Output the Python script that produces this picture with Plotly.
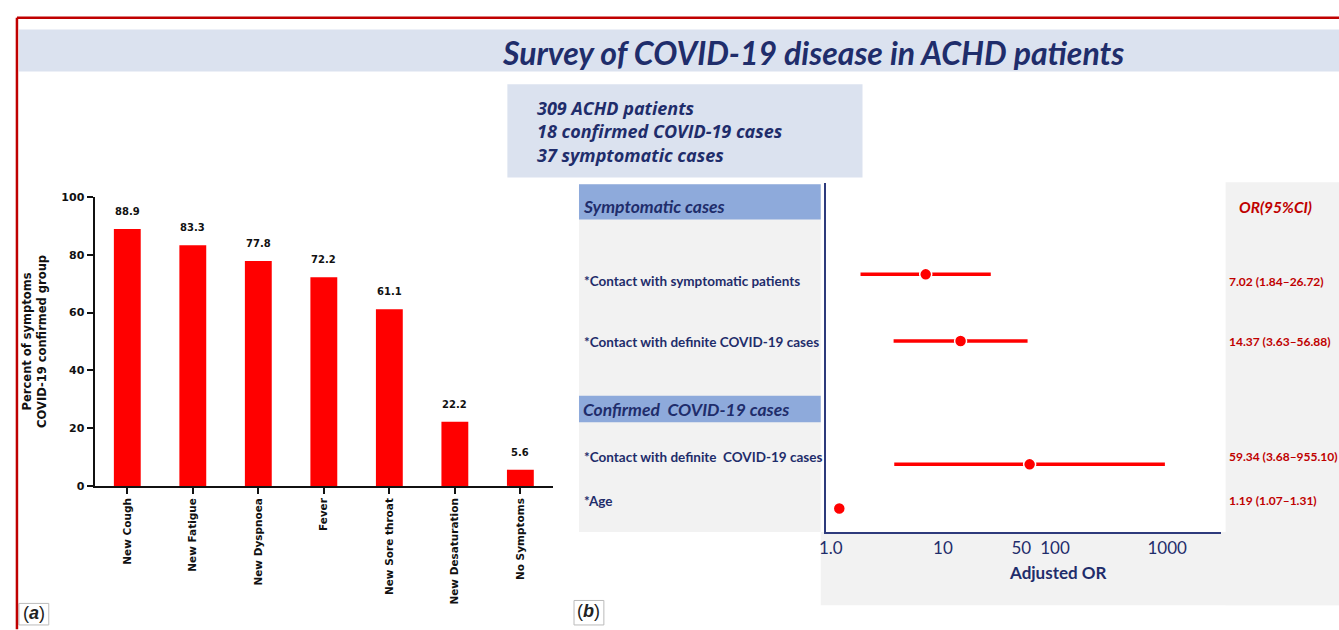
import math
import plotly.graph_objects as go

W, H = 1339, 630

# ---------------- data ----------------
symptoms = ["New Cough", "New Fatigue", "New Dyspnoea", "Fever",
            "New Sore throat", "New Desaturation", "No Symptoms"]
percent = [88.9, 83.3, 77.8, 72.2, 61.1, 22.2, 5.6]
pct_ticks = [0, 20, 40, 60, 80, 100]

factors = ["*Contact with symptomatic patients",
           "*Contact with definite COVID-19 cases",
           "*Contact with definite  COVID-19 cases",
           "*Age"]
or_val = [7.02, 14.37, 59.34, 1.19]
ci_low = [1.84, 3.63, 3.68, 1.07]
ci_high = [26.72, 56.88, 955.10, 1.31]
or_labels = ["7.02 (1.84\u201326.72)", "14.37 (3.63\u201356.88)",
             "59.34 (3.68\u2013955.10)", "1.19 (1.07\u20131.31)"]
or_ticks = [1, 10, 50, 100, 1000]
or_ticktext = ["1.0", "10", "50", "100", "1000"]

summary_lines = ["309 ACHD patients", "18 confirmed COVID-19 cases", "37 symptomatic cases"]
group_headers = ["Symptomatic cases", "Confirmed  COVID-19 cases"]

# ---------------- layout helpers (pixel -> paper) ----------------
def fx(x):
    return x / W

def fy(y):
    return 1 - y / H

NAVY = "#1f2d6b"
AXNAVY = "#2e3b7c"
RED = "#ff0000"
DARKRED = "#c00000"
CAL = "Lato"
VER = "DejaVu Sans"

# row positions of the forest plot (pixel-like units on reversed y axis)
row_y = [274, 342, 468, 513]
label_y = [281, 343, 460, 505]

fig = go.Figure()

fig.add_trace(go.Bar(
    x=symptoms, y=percent, marker=dict(color=RED, line=dict(width=0)),
    width=0.41, xaxis="x", yaxis="y", showlegend=False, hoverinfo="x+y"))

fig.add_trace(go.Scatter(
    x=or_val, y=row_y, mode="markers", xaxis="x2", yaxis="y2",
    marker=dict(color=RED, size=12, line=dict(color="white", width=1.5)),
    error_x=dict(type="data", symmetric=False,
                 array=[h - v for h, v in zip(ci_high, or_val)],
                 arrayminus=[v - l for v, l in zip(or_val, ci_low)],
                 thickness=3.5, width=0, color=RED),
    showlegend=False))

shapes = []
def rect(x0, y0, x1, y1, fill=None, line=None, lw=0):
    shapes.append(dict(type="rect", xref="paper", yref="paper",
                       x0=fx(x0), x1=fx(x1), y0=fy(y1), y1=fy(y0),
                       fillcolor=fill if fill else "rgba(0,0,0,0)",
                       line=dict(color=line if line else "rgba(0,0,0,0)", width=lw),
                       layer="below"))

# title band and info box
rect(12, 24, W + 5, 67, fill="#dbe2ef")
rect(503, 80, 860, 175, fill="#dbe2ef")
# forest panel backgrounds
rect(575, 182, 818, 537, fill="#f2f2f2")
rect(575, 182, 818, 218, fill="#8eaadb")
rect(575, 398, 818, 425, fill="#8eaadb")
rect(818, 537, W + 5, 612, fill="#f2f2f2")
rect(1225, 180, W + 5, 612, fill="#f2f2f2")
# panel label boxes
rect(12, 610, 42, 632, line="#bbbbbb", lw=1)
rect(570, 607, 600, 632, line="#bbbbbb", lw=1)
# red frame (top and left)
shapes.append(dict(type="line", xref="paper", yref="paper", x0=fx(10), x1=1.01,
                   y0=fy(12), y1=fy(12), line=dict(color=DARKRED, width=2.5)))
shapes.append(dict(type="line", xref="paper", yref="paper", x0=fx(10), x1=fx(10),
                   y0=fy(12), y1=-0.01, line=dict(color=DARKRED, width=2.5)))

ann = []
def text(x, y, s, size, color, family=CAL, xanchor="left", yanchor="middle", align="left"):
    ann.append(dict(xref="paper", yref="paper", x=fx(x), y=fy(y), text=s,
                    showarrow=False, xanchor=xanchor, yanchor=yanchor, align=align,
                    font=dict(size=size, color=color, family=family)))

text(810, 47, "<b><i>Survey of COVID-19 disease in ACHD patients</i></b>", 32, NAVY, xanchor="center")
text(531, 128, "<br>".join("<b><i>" + s + "</i></b>" for s in summary_lines),
     18, NAVY, family="Open Sans")
text(577, 205, "<b><i>" + group_headers[0] + "</i></b>", 17.5, NAVY)
text(577, 412, "<b><i>" + group_headers[1] + "</i></b>", 17.5, NAVY)
for s, yy in zip(factors, label_y):
    text(578, yy, "<b>" + s.replace("  ", "&nbsp; ") + "</b>", 13.5, NAVY)
text(1236, 205, "<b><i>OR(95%CI)</i></b>", 15.5, DARKRED)
for s, yy in zip(or_labels, label_y):
    text(1226, yy, "<b>" + s + "</b>", 12, DARKRED)
text(1057, 578, "<b>Adjusted OR</b>", 17, NAVY, xanchor="center")
text(27, 620, "(<i><b>a</b></i>)", 18, "#222222", family="Liberation Sans", xanchor="center")
text(585, 618, "(<i><b>b</b></i>)", 18, "#222222", family="Liberation Sans", xanchor="center")

# bar value labels
for c, v in zip(symptoms, percent):
    ann.append(dict(xref="x", yref="y", x=c, y=v, text="<b>%.1f</b>" % v, showarrow=False,
                    yanchor="bottom", yshift=10, font=dict(size=10, color="#111111", family=VER)))

fig.update_layout(
    width=W, height=H, margin=dict(l=0, r=0, t=0, b=0),
    paper_bgcolor="white", plot_bgcolor="rgba(0,0,0,0)",
    shapes=shapes, annotations=ann, showlegend=False,
    xaxis=dict(domain=[fx(88), fx(549)], range=[-0.5, 6.5], anchor="y",
               showline=True, linecolor="#111111", linewidth=2,
               ticks="outside", ticklen=6, tickwidth=2, tickcolor="#111111",
               tickangle=-90, showgrid=False, zeroline=False,
               tickfont=dict(size=10.5, color="#111111", family=VER, weight="bold")),
    yaxis=dict(domain=[fy(490), fy(195)], range=[0, 100], anchor="x",
               tickvals=pct_ticks, showline=True, linecolor="#111111", linewidth=2,
               ticks="outside", ticklen=6, tickwidth=2, tickcolor="#111111",
               showgrid=False, zeroline=False,
               tickfont=dict(size=11, color="#111111", family=VER, weight="bold"),
               title=dict(text="Percent of symptoms<br>COVID-19 confirmed group",
                          font=dict(size=11.5, color="#111111", family=VER, weight="bold"),
                          standoff=12)),
    xaxis2=dict(domain=[fx(823), fx(1220)], type="log",
                range=[math.log10(0.9), math.log10(3000)], anchor="y2",
                showline=True, linecolor=AXNAVY, linewidth=2,
                tickvals=or_ticks, ticktext=or_ticktext, ticks="",
                showgrid=False, zeroline=False,
                tickfont=dict(size=17, color=NAVY, family=CAL)),
    yaxis2=dict(domain=[fy(537), fy(181)], range=[537, 181], anchor="x2",
                showline=True, linecolor=AXNAVY, linewidth=2,
                showticklabels=False, ticks="", showgrid=False, zeroline=False),
)

fig.write_html("out.html", config={"displayModeBar": False},
               post_script="document.body.style.margin='0';document.body.style.overflow='hidden';")
